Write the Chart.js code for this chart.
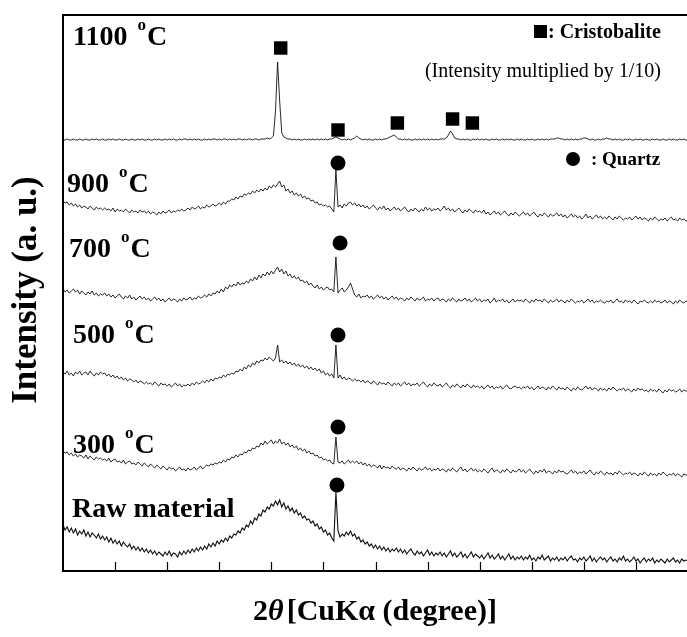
<!DOCTYPE html>
<html>
<head>
<meta charset="utf-8">
<script src="https://cdn.jsdelivr.net/npm/chart.js@4.4.1/dist/chart.umd.min.js"></script>
<style>
  html, body { margin: 0; padding: 0; background: #fff; overflow: hidden; }
  #wrap { width: 687px; height: 637px; overflow: hidden; }
</style>
</head>
<body>
<div id="wrap"><canvas id="xrd" width="700" height="637"></canvas></div>
<script>
// 2-theta scan, 0.2 degree step
const twoTheta = Array.from({ length: 301 }, (_, i) => +(i * 0.2).toFixed(1));
const xTicks = [5, 10, 15, 20, 25, 30, 35, 40, 45, 50, 55];

const sampleLabels = ["Raw material", "300 °C", "500 °C", "700 °C", "900 °C", "1100 °C"];
const stackOffsets = [0, 90, 175, 260, 340, 420];

const rawMaterial = [
    46, 41, 44, 39, 43, 38, 42, 36, 40, 37, 41, 35, 39, 34, 38, 36, 33, 37, 32, 35,
    31, 34, 29, 33, 28, 31, 27, 30, 25, 29, 26, 24, 27, 22, 25, 21, 24, 20, 23, 19,
    22, 18, 21, 17, 20, 16, 19, 17, 15, 19, 16, 20, 15, 18, 17, 14, 19, 16, 20, 17,
    21, 18, 22, 19, 23, 20, 24, 21, 25, 22, 27, 24, 28, 25, 30, 27, 31, 29, 33, 30,
    35, 33, 37, 36, 40, 38, 43, 41, 46, 44, 50, 47, 53, 51, 57, 55, 61, 59, 64, 62,
    67, 65, 70, 66, 71, 64, 68, 62, 65, 60, 63, 58, 61, 56, 58, 53, 55, 51, 52, 48,
    50, 45, 47, 42, 44, 39, 41, 36, 38, 33, 30, 79, 40, 34, 37, 35, 39, 36, 40, 35,
    37, 32, 34, 29, 31, 27, 29, 25, 27, 23, 26, 22, 25, 21, 24, 20, 23, 19, 22, 20,
    23, 19, 22, 18, 21, 17, 20, 22, 18, 16, 20, 17, 19, 15, 18, 21, 16, 19, 15, 18,
    16, 19, 15, 18, 14, 17, 20, 15, 18, 14, 16, 19, 14, 17, 13, 16, 19, 14, 17, 15,
    13, 16, 12, 15, 18, 13, 16, 12, 14, 17, 12, 15, 11, 14, 17, 12, 15, 11, 14, 12,
    15, 11, 14, 12, 16, 11, 13, 10, 14, 12, 16, 11, 13, 15, 10, 13, 11, 14, 10, 13,
    11, 14, 10, 13, 15, 11, 12, 9, 13, 11, 14, 10, 12, 15, 10, 13, 9, 12, 14, 11,
    13, 9, 12, 14, 10, 12, 9, 13, 11, 15, 10, 12, 9, 11, 14, 10, 12, 8, 11, 13,
    9, 12, 10, 13, 8, 11, 9, 12, 10, 8, 12, 9, 11, 13, 9, 11, 8, 12, 10, 11,
    10,
];

const calcined300 = [
    30, 28, 29, 26, 28, 25, 27, 24, 26, 25, 23, 26, 22, 25, 23, 21, 24, 22, 23, 21,
    22, 20, 23, 19, 21, 22, 19, 20, 18, 21, 17, 19, 20, 17, 18, 16, 19, 17, 15, 18,
    16, 14, 17, 15, 13, 16, 14, 12, 15, 13, 11, 14, 12, 13, 10, 12, 14, 11, 12, 10,
    13, 11, 12, 14, 11, 13, 15, 12, 14, 16, 15, 17, 16, 18, 17, 19, 18, 21, 19, 22,
    21, 24, 23, 26, 24, 27, 26, 29, 28, 31, 30, 33, 32, 35, 34, 38, 36, 40, 37, 39,
    41, 37, 40, 38, 42, 37, 39, 36, 38, 34, 36, 33, 35, 31, 33, 30, 32, 28, 30, 27,
    28, 25, 26, 23, 24, 21, 22, 20, 21, 18, 17, 44, 19, 18, 20, 17, 19, 21, 18, 20,
    18, 20, 17, 19, 16, 18, 15, 17, 14, 16, 15, 13, 16, 12, 15, 13, 14, 12, 15, 13,
    12, 14, 11, 13, 12, 10, 13, 11, 14, 12, 10, 13, 11, 12, 14, 11, 13, 10, 12, 11,
    13, 10, 12, 11, 9, 12, 10, 13, 11, 9, 12, 14, 10, 12, 9, 11, 13, 10, 12, 9,
    11, 9, 12, 10, 8, 11, 13, 9, 11, 10, 8, 11, 9, 12, 10, 8, 11, 9, 10, 12,
    9, 11, 8, 10, 12, 9, 7, 10, 8, 11, 9, 12, 8, 10, 9, 7, 10, 8, 11, 9,
    10, 8, 7, 9, 11, 8, 10, 7, 9, 8, 10, 7, 9, 11, 8, 6, 9, 7, 10, 8,
    6, 9, 7, 8, 6, 9, 7, 10, 8, 6, 8, 7, 9, 6, 8, 7, 5, 8, 6, 9,
    7, 5, 8, 6, 7, 5, 8, 6, 9, 7, 5, 7, 6, 8, 5, 7, 6, 4, 7, 6,
    6,
];

const calcined500 = [
    24, 22, 25, 21, 23, 20, 24, 22, 25, 21, 23, 24, 21, 25, 22, 20, 23, 21, 24, 22,
    23, 20, 22, 19, 21, 18, 20, 17, 19, 16, 18, 15, 17, 16, 14, 16, 13, 15, 14, 12,
    14, 12, 13, 11, 14, 12, 10, 13, 11, 12, 10, 12, 9, 11, 13, 10, 12, 9, 11, 10,
    12, 10, 13, 11, 14, 12, 13, 15, 13, 16, 14, 17, 15, 18, 17, 19, 18, 21, 19, 22,
    21, 23, 22, 25, 24, 27, 25, 29, 27, 31, 29, 33, 31, 35, 33, 36, 35, 38, 36, 39,
    37, 35, 38, 51, 34, 36, 33, 35, 32, 34, 31, 33, 30, 32, 29, 31, 28, 30, 27, 29,
    26, 28, 25, 27, 23, 25, 21, 23, 20, 22, 18, 51, 18, 21, 17, 19, 16, 18, 17, 15,
    17, 15, 16, 14, 16, 13, 15, 14, 12, 15, 13, 11, 14, 12, 13, 11, 14, 12, 10, 13,
    11, 13, 10, 12, 14, 11, 13, 10, 12, 11, 13, 10, 12, 14, 11, 9, 12, 10, 13, 11,
    10, 12, 9, 11, 13, 10, 8, 11, 9, 12, 10, 8, 11, 9, 12, 10, 8, 11, 9, 10,
    8, 10, 7, 9, 11, 8, 10, 7, 9, 8, 10, 7, 9, 11, 8, 7, 9, 10, 8, 9,
    7, 9, 8, 10, 7, 9, 6, 8, 10, 7, 9, 8, 6, 9, 7, 10, 8, 6, 9, 7,
    8, 6, 9, 7, 5, 8, 6, 9, 7, 6, 8, 10, 7, 9, 6, 8, 7, 5, 8, 6,
    7, 5, 8, 6, 9, 7, 5, 7, 6, 8, 5, 7, 6, 4, 7, 5, 8, 6, 7, 5,
    6, 4, 7, 5, 6, 4, 7, 5, 3, 6, 4, 7, 5, 6, 4, 5, 7, 4, 6, 5,
    5,
];

const calcined700 = [
    22, 19, 21, 18, 20, 22, 19, 21, 17, 20, 18, 16, 19, 17, 20, 16, 18, 15, 17, 16,
    18, 15, 17, 14, 16, 13, 15, 17, 14, 12, 15, 13, 16, 12, 14, 11, 13, 15, 12, 14,
    11, 13, 10, 12, 14, 11, 13, 10, 12, 9, 11, 13, 10, 12, 11, 9, 12, 10, 13, 11,
    12, 14, 11, 13, 12, 15, 13, 14, 16, 14, 17, 15, 18, 17, 20, 18, 22, 19, 24, 22,
    26, 24, 27, 25, 29, 26, 28, 27, 30, 28, 32, 30, 34, 31, 36, 33, 37, 35, 39, 36,
    40, 37, 41, 44, 39, 42, 37, 40, 35, 37, 33, 35, 32, 34, 30, 31, 28, 30, 26, 28,
    25, 23, 26, 22, 24, 21, 23, 24, 21, 22, 19, 54, 18, 21, 23, 19, 21, 24, 28, 22,
    16, 14, 17, 13, 15, 14, 16, 13, 15, 12, 14, 16, 13, 15, 12, 14, 11, 13, 15, 12,
    14, 11, 13, 12, 10, 13, 11, 14, 12, 10, 13, 11, 12, 14, 10, 12, 11, 13, 10, 12,
    13, 10, 12, 11, 9, 12, 10, 13, 11, 9, 12, 10, 11, 13, 10, 12, 9, 11, 13, 10,
    12, 9, 11, 10, 12, 8, 10, 13, 9, 11, 10, 12, 9, 11, 8, 10, 12, 9, 11, 10,
    11, 9, 12, 10, 8, 11, 9, 12, 10, 11, 9, 12, 10, 8, 11, 9, 10, 12, 9, 11,
    10, 8, 11, 9, 12, 10, 8, 10, 9, 11, 8, 10, 12, 9, 11, 8, 10, 9, 11, 9,
    8, 10, 9, 11, 8, 10, 12, 9, 10, 8, 11, 9, 10, 8, 11, 9, 7, 10, 9, 11,
    9, 8, 10, 8, 11, 9, 10, 8, 9, 11, 8, 10, 9, 7, 10, 8, 11, 9, 8, 10,
    9,
];

const calcined900 = [
    30, 28, 29, 26, 28, 25, 27, 24, 26, 23, 25, 24, 22, 25, 23, 21, 24, 22, 23, 21,
    23, 21, 22, 20, 23, 19, 22, 20, 21, 19, 22, 20, 18, 21, 19, 20, 18, 21, 19, 20,
    18, 20, 17, 19, 18, 16, 19, 17, 20, 18, 19, 21, 18, 20, 19, 21, 20, 22, 20, 21,
    23, 21, 24, 22, 23, 25, 22, 24, 23, 26, 24, 25, 27, 25, 26, 28, 26, 29, 27, 30,
    30, 32, 31, 34, 32, 35, 34, 37, 36, 38, 37, 40, 38, 41, 39, 42, 40, 43, 41, 45,
    43, 46, 44, 47, 50, 44, 46, 40, 42, 38, 40, 36, 38, 35, 37, 33, 35, 32, 33, 30,
    31, 28, 29, 26, 27, 25, 26, 24, 25, 22, 19, 61, 24, 26, 23, 27, 25, 28, 29, 26,
    28, 25, 27, 24, 26, 23, 25, 22, 24, 26, 23, 21, 24, 22, 25, 21, 23, 20, 22, 24,
    21, 23, 20, 22, 24, 21, 19, 22, 20, 23, 21, 19, 22, 20, 24, 21, 23, 20, 22, 21,
    23, 20, 22, 25, 21, 23, 20, 22, 19, 21, 23, 20, 18, 21, 19, 22, 20, 18, 21, 19,
    20, 18, 21, 17, 19, 16, 18, 20, 17, 19, 16, 18, 20, 17, 15, 18, 16, 19, 17, 15,
    17, 19, 16, 18, 15, 17, 19, 16, 14, 17, 15, 18, 16, 14, 17, 15, 16, 18, 15, 17,
    14, 16, 13, 15, 17, 14, 16, 13, 15, 12, 14, 17, 13, 15, 12, 14, 16, 13, 15, 12,
    14, 12, 15, 13, 11, 14, 12, 15, 13, 11, 13, 12, 14, 11, 13, 15, 12, 14, 11, 13,
    12, 10, 13, 11, 14, 12, 10, 12, 11, 13, 10, 12, 14, 11, 12, 10, 13, 11, 12, 10,
    11,
];

// intensity multiplied by 1/10
const calcined1100 = [
    11, 11, 12, 11, 11, 12, 11, 11, 12, 11, 11, 12, 11, 11, 12, 11, 12, 11, 11, 12,
    11, 11, 12, 11, 12, 11, 11, 12, 11, 11, 12, 11, 11, 12, 11, 11, 12, 11, 12, 11,
    11, 12, 11, 11, 12, 11, 12, 11, 11, 12, 11, 12, 11, 12, 11, 11, 12, 11, 12, 12,
    11, 12, 11, 12, 11, 12, 11, 11, 12, 11, 12, 11, 12, 12, 11, 12, 11, 12, 12, 11,
    12, 11, 12, 11, 12, 12, 11, 12, 11, 12, 12, 11, 12, 12, 11, 12, 12, 12, 13, 12,
    13, 15, 40, 89, 50, 18, 14, 13, 12, 12, 11, 12, 11, 12, 11, 11, 12, 11, 12, 11,
    12, 11, 12, 11, 12, 11, 12, 11, 12, 12, 13, 14, 13, 12, 11, 12, 11, 12, 11, 12,
    13, 15, 13, 12, 11, 12, 11, 12, 11, 11, 12, 11, 12, 11, 12, 12, 13, 14, 15, 16,
    14, 12, 12, 11, 12, 11, 12, 11, 11, 12, 11, 12, 11, 12, 11, 12, 11, 12, 11, 12,
    11, 12, 12, 12, 13, 16, 20, 17, 13, 12, 12, 11, 12, 11, 12, 11, 11, 12, 11, 12,
    11, 12, 11, 12, 11, 11, 12, 11, 12, 11, 11, 12, 11, 12, 11, 12, 11, 11, 12, 11,
    12, 11, 11, 12, 11, 12, 11, 11, 12, 11, 12, 11, 12, 11, 12, 12, 12, 13, 13, 12,
    12, 11, 12, 11, 12, 11, 12, 11, 12, 12, 13, 13, 12, 11, 12, 11, 11, 12, 11, 12,
    12, 13, 12, 12, 11, 12, 11, 12, 11, 11, 12, 11, 12, 11, 11, 12, 11, 12, 11, 11,
    12, 11, 11, 12, 11, 12, 11, 11, 12, 11, 11, 12, 11, 12, 11, 11, 12, 11, 12, 11,
    11,
];

// peak markers (2-theta, stacked height)
const cristobaliteAngles = [20.9, 26.4, 32.1, 37.4, 39.3];
const cristobaliteHeights = [523, 441, 448, 452, 448];
const quartzAngles = [26.3, 26.4, 26.4, 26.6, 26.4];
const quartzHeights = [86, 144, 236, 328, 408];

const patterns = [rawMaterial, calcined300, calcined500, calcined700, calcined900, calcined1100];

const SERIF = '"Liberation Serif", "Times New Roman", serif';

function drawTempLabel(ctx, text, x, y) {
    const parts = text.split(" °");
    ctx.font = "bold 28px " + SERIF;
    ctx.fillText(parts[0], x, y);
    if (parts.length < 2) {
        return;
    }
    let cx = x + ctx.measureText(parts[0] + " ").width + 3;
    ctx.font = "bold 17px " + SERIF;
    ctx.fillText("o", cx, y - 15);
    cx += ctx.measureText("o").width + 1;
    ctx.font = "bold 28px " + SERIF;
    ctx.fillText(parts[1], cx, y);
}

const decorations = {
    id: "decorations",
    afterDraw(chart) {
        const { ctx, chartArea } = chart;
        const xScale = chart.scales.x;
        ctx.save();
        ctx.strokeStyle = "#000";
        ctx.fillStyle = "#000";

        // frame
        ctx.lineWidth = 2;
        ctx.beginPath();
        ctx.moveTo(chartArea.right, chartArea.bottom);
        ctx.lineTo(chartArea.left, chartArea.bottom);
        ctx.lineTo(chartArea.left, chartArea.top);
        ctx.lineTo(chartArea.right, chartArea.top);
        ctx.stroke();

        // inward ticks on the 2-theta axis
        ctx.lineWidth = 1.2;
        ctx.beginPath();
        xTicks.forEach((t) => {
            const px = Math.round(xScale.getPixelForValue(t)) + 0.5;
            ctx.moveTo(px, chartArea.bottom);
            ctx.lineTo(px, chartArea.bottom - 9);
        });
        ctx.stroke();

        // sample labels
        ctx.textAlign = "left";
        ctx.textBaseline = "alphabetic";
        const anchors = [[72, 517], [73, 453], [73, 343], [69, 257], [67, 192], [73, 45]];
        sampleLabels.forEach((label, k) => drawTempLabel(ctx, label, anchors[k][0], anchors[k][1]));

        // phase keys
        ctx.fillRect(534, 25, 13, 13);
        ctx.font = "bold 20px " + SERIF;
        ctx.fillText(": Cristobalite", 548, 38);
        ctx.textAlign = "right";
        ctx.font = "20px " + SERIF;
        ctx.fillText("(Intensity multiplied by 1/10)", 661, 77);
        ctx.textAlign = "left";
        ctx.beginPath();
        ctx.arc(573, 159, 7, 0, Math.PI * 2);
        ctx.fill();
        ctx.font = "bold 19px " + SERIF;
        ctx.fillText(": Quartz", 591, 165);

        // y title
        ctx.save();
        ctx.translate(36, 290);
        ctx.rotate(-Math.PI / 2);
        ctx.textAlign = "center";
        ctx.font = "bold 35px " + SERIF;
        ctx.fillText("Intensity (a. u.)", 0, 0);
        ctx.restore();

        // x title: 2θ [CuKα (degree)]
        const pieces = [
            ["2", "bold 30px " + SERIF],
            ["θ", "italic bold 30px " + SERIF],
            ["[CuKα (degree)]", "bold 30px " + SERIF],
        ];
        let total = 3;
        pieces.forEach(([s, f]) => { ctx.font = f; total += ctx.measureText(s).width; });
        let cx = 375 - total / 2;
        pieces.forEach(([s, f], i) => {
            ctx.font = f;
            ctx.fillText(s, cx, 620);
            cx += ctx.measureText(s).width + (i === 1 ? 3 : 0);
        });
        ctx.restore();
    },
};

const datasets = patterns.map((vals, k) => ({
    type: "line",
    label: sampleLabels[k],
    data: twoTheta.map((t, i) => ({ x: t, y: vals[i] + stackOffsets[k] })),
    borderColor: "#111",
    borderWidth: k === 0 ? 1.1 : 0.9,
    pointRadius: 0,
    tension: 0,
}));

datasets.push({
    type: "scatter",
    label: "Cristobalite",
    data: cristobaliteAngles.map((x, i) => ({ x, y: cristobaliteHeights[i] })),
    pointStyle: "rect",
    pointRadius: 9.5,
    backgroundColor: "#000",
    borderWidth: 0,
});

datasets.push({
    type: "scatter",
    label: "Quartz",
    data: quartzAngles.map((x, i) => ({ x, y: quartzHeights[i] })),
    pointStyle: "circle",
    pointRadius: 7.5,
    backgroundColor: "#000",
    borderWidth: 0,
});

new Chart(document.getElementById("xrd"), {
    type: "line",
    data: { datasets },
    options: {
        responsive: false,
        animation: false,
        layout: { padding: { left: 63, top: 15, right: 12, bottom: 66 } },
        plugins: {
            legend: { display: false },
            tooltip: { enabled: false },
        },
        scales: {
            x: { type: "linear", min: 0, max: 60, display: false, ticks: { stepSize: 5 } },
            y: { type: "linear", min: 0, max: 556, display: false },
        },
    },
    plugins: [decorations],
});
</script>
</body>
</html>
